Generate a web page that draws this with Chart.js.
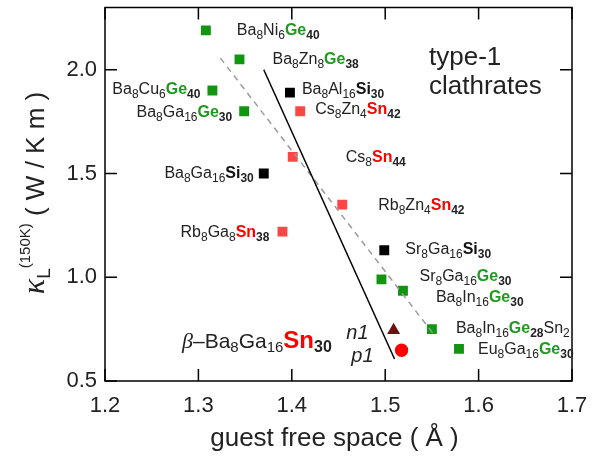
<!DOCTYPE html>
<html>
<head>
<meta charset="utf-8">
<script src="https://cdn.jsdelivr.net/npm/chart.js@4.4.0/dist/chart.umd.min.js"></script>
<style>
  html, body { margin: 0; padding: 0; background: #fff; }
  #wrap { width: 606px; height: 459px; position: relative; }
</style>
</head>
<body>
<div id="wrap"><canvas id="chart"></canvas></div>
<script>
// kappa_L at 150 K against guest free space, type-1 clathrates
const geX = [1.308, 1.344, 1.315, 1.349, 1.496, 1.519, 1.550, 1.579];
const geY = [2.19, 2.05, 1.90, 1.80, 0.99, 0.935, 0.75, 0.655];
const geNames = ['Ba_8Ni_6*Ge*_40', 'Ba_8Zn_8*Ge*_38', 'Ba_8Cu_6*Ge*_40', 'Ba_8Ga_16*Ge*_30',
                 'Sr_8Ga_16*Ge*_30', 'Ba_8In_16*Ge*_30', 'Ba_8In_16*Ge*_28Sn_2', 'Eu_8Ga_16*Ge*_30'];

const siX = [1.398, 1.370, 1.499];
const siY = [1.89, 1.50, 1.13];
const siNames = ['Ba_8Al_16*Si*_30', 'Ba_8Ga_16*Si*_30', 'Sr_8Ga_16*Si*_30'];

const snX = [1.409, 1.401, 1.454, 1.390];
const snY = [1.80, 1.58, 1.35, 1.22];
const snNames = ['Cs_8Zn_4*Sn*_42', 'Cs_8*Sn*_44', 'Rb_8Zn_4*Sn*_42', 'Rb_8Ga_8*Sn*_38'];

// beta-Ba8Ga16Sn30 samples (n-type triangle, p-type circle)
const nX = [1.509];
const nY = [0.745];
const pX = [1.5175];
const pY = [0.648];

// guide lines
const solidX = [1.370, 1.510];
const solidY = [2.00, 0.606];
const dashX = [1.3236, 1.5518];
const dashY = [2.056, 0.726];

const xTicks = [1.2, 1.3, 1.4, 1.5, 1.6, 1.7];
const yTicks = [0.5, 1.0, 1.5, 2.0];

const FONT = '"Liberation Sans", Arial, Helvetica, sans-serif';
const SERIF = '"Liberation Serif", "DejaVu Serif", serif';
const TEXT = '#222';
const hlColor = { Ge: '#1e9b1e', Sn: '#ff0000', Si: '#111' };

// label placement: [dx, dy, align] relative to the point pixel
const gePlace = [[31, 5, 'left'], [33, 5, 'left'], [-12, 3, 'right'], [-12, 6, 'right'],
                 [38, 2, 'left'], [33, 11, 'left'], [24, 4, 'left'], [19, 5, 'left']];
const siPlace = [[12, 1, 'left'], [-10, 4, 'right'], [21, 4, 'left']];
const snPlace = [[15, 3, 'left'], [53, 5, 'left'], [36, 5, 'left'], [-13, 5, 'right']];

const pts = (xs, ys) => xs.map((x, i) => ({ x: x, y: ys[i] }));

function parseFormula(s, size) {
    const sub = Math.round(size * 0.75);
    const out = [];
    const re = /\*([A-Za-z]+)\*(?:_(\d+))?|_(\d+)|([^_*]+)/g;
    let m;
    while ((m = re.exec(s))) {
        if (m[1]) {
            out.push({ t: m[1], size: size, bold: true, color: hlColor[m[1]] });
            if (m[2]) out.push({ t: m[2], size: sub, bold: true, dy: 4 });
        } else if (m[3]) {
            out.push({ t: m[3], size: sub, dy: 4 });
        } else {
            out.push({ t: m[4], size: size });
        }
    }
    return out;
}

function segFont(s) {
    return (s.italic ? 'italic ' : '') + (s.bold ? 'bold ' : '') + s.size + 'px ' + (s.family || FONT);
}

function drawRich(ctx, segs, x, y, align) {
    let w = 0;
    segs.forEach(s => { ctx.font = segFont(s); s.w = ctx.measureText(s.t).width; w += s.w; });
    let cx = align === 'right' ? x - w : (align === 'center' ? x - w / 2 : x);
    ctx.textAlign = 'left';
    ctx.textBaseline = 'alphabetic';
    segs.forEach(s => {
        ctx.font = segFont(s);
        ctx.fillStyle = s.color || TEXT;
        ctx.fillText(s.t, cx, y + (s.dy || 0));
        cx += s.w;
    });
}

const decorPlugin = {
    id: 'decor',
    afterDraw(chart) {
        const ctx = chart.ctx;
        const xs = chart.scales.x, ys = chart.scales.y;
        const a = chart.chartArea;
        ctx.save();

        // frame and inward ticks on all sides
        ctx.strokeStyle = '#000';
        ctx.lineWidth = 1.5;
        ctx.strokeRect(a.left, a.top, a.right - a.left, a.bottom - a.top);
        ctx.beginPath();
        xTicks.forEach(v => {
            const px = xs.getPixelForValue(v);
            ctx.moveTo(px, a.bottom); ctx.lineTo(px, a.bottom - 12);
            ctx.moveTo(px, a.top); ctx.lineTo(px, a.top + 12);
        });
        yTicks.forEach(v => {
            const py = ys.getPixelForValue(v);
            ctx.moveTo(a.left, py); ctx.lineTo(a.left + 12, py);
            ctx.moveTo(a.right, py); ctx.lineTo(a.right - 12, py);
        });
        ctx.stroke();

        // compound labels
        const label = (xsArr, ysArr, names, place) => {
            names.forEach((n, i) => {
                const px = xs.getPixelForValue(xsArr[i]);
                const py = ys.getPixelForValue(ysArr[i]);
                const p = place[i];
                drawRich(ctx, parseFormula(n, 16), px + p[0], py + p[1], p[2]);
            });
        };
        label(geX, geY, geNames, gePlace);
        label(siX, siY, siNames, siPlace);
        label(snX, snY, snNames, snPlace);

        // n1 / p1
        ctx.font = 'italic 20px ' + FONT;
        ctx.fillStyle = TEXT;
        ctx.textAlign = 'right';
        ctx.fillText('n1', xs.getPixelForValue(nX[0]) - 25, ys.getPixelForValue(nY[0]) + 9);
        ctx.fillText('p1', xs.getPixelForValue(pX[0]) - 28, ys.getPixelForValue(pY[0]) + 12);

        // beta-Ba8Ga16Sn30 caption
        drawRich(ctx, [
            { t: '\u03B2', size: 22, italic: true, family: SERIF },
            { t: '\u2013Ba', size: 21 },
            { t: '8', size: 15, dy: 4 },
            { t: 'Ga', size: 21 },
            { t: '16', size: 15, dy: 4 },
            { t: 'Sn', size: 24, bold: true, color: hlColor.Sn },
            { t: '30', size: 16, bold: true, dy: 4 }
        ], a.left + 77, a.top + 340, 'left');

        // type-1 clathrates
        ctx.font = '26px ' + FONT;
        ctx.fillStyle = TEXT;
        ctx.textAlign = 'left';
        ctx.fillText('type-1', a.left + 324, a.top + 57);
        ctx.fillText('clathrates', a.left + 324, a.top + 86);

        // x title
        ctx.font = '26px ' + FONT;
        ctx.textAlign = 'center';
        ctx.fillText('guest free space ( \u00C5 )', (a.left + a.right) / 2 - 4, 446);

        // y title (rotated)
        ctx.translate(44, 193);
        ctx.rotate(-Math.PI / 2);
        drawRich(ctx, [
            { t: '\u03BA', size: 32, italic: true, family: SERIF },
            { t: 'L', size: 19, dy: 6 },
            { t: '(150K)', size: 15, dy: -14 },
            { t: ' ( W / K m )', size: 26 }
        ], 0, 0, 'center');

        ctx.restore();
    }
};

new Chart(document.getElementById('chart'), {
    type: 'scatter',
    data: {
        datasets: [
            {
                data: pts(solidX, solidY), showLine: true, borderColor: '#000', borderWidth: 1.5,
                pointRadius: 0
            },
            {
                data: pts(dashX, dashY), showLine: true, borderColor: '#9a9a9a', borderWidth: 1.5,
                borderDash: [6, 5], pointRadius: 0
            },
            {
                data: pts(nX, nY), pointStyle: 'triangle', pointRadius: 7.5,
                backgroundColor: '#6e1010', borderColor: '#6e1010', borderWidth: 0
            },
            {
                data: pts(pX, pY), pointStyle: 'circle', pointRadius: 6.7,
                backgroundColor: '#ff0000', borderColor: '#ff0000', borderWidth: 0
            },
            {
                data: pts(geX, geY), pointStyle: 'rect', pointRadius: 7,
                backgroundColor: '#129612', borderColor: '#129612', borderWidth: 0
            },
            {
                data: pts(siX, siY), pointStyle: 'rect', pointRadius: 7,
                backgroundColor: '#000', borderColor: '#000', borderWidth: 0
            },
            {
                data: pts(snX, snY), pointStyle: 'rect', pointRadius: 7,
                backgroundColor: '#ff4545', borderColor: '#ff4545', borderWidth: 0
            }
        ]
    },
    options: {
        responsive: true,
        maintainAspectRatio: false,
        animation: false,
        layout: { padding: { left: 0, right: 34, top: 7, bottom: 0 } },
        plugins: { legend: { display: false }, tooltip: { enabled: false } },
        scales: {
            x: {
                type: 'linear', min: 1.2, max: 1.7,
                grid: { display: false, drawTicks: false },
                border: { display: false },
                ticks: {
                    font: { size: 22, family: FONT }, color: TEXT, padding: 12,
                    callback: v => v.toFixed(1)
                },
                afterBuildTicks: s => { s.ticks = xTicks.map(v => ({ value: v })); },
                afterFit: s => { s.height = 78; s.paddingLeft = 0; s.paddingRight = 0; }
            },
            y: {
                type: 'linear', min: 0.5, max: 2.3,
                grid: { display: false, drawTicks: false },
                border: { display: false },
                ticks: {
                    font: { size: 22, family: FONT }, color: TEXT, padding: 8,
                    callback: v => v.toFixed(1)
                },
                afterBuildTicks: s => { s.ticks = yTicks.map(v => ({ value: v })); },
                afterFit: s => { s.width = 105; s.paddingTop = 0; s.paddingBottom = 0; }
            }
        }
    },
    plugins: [decorPlugin]
});
</script>
</body>
</html>
